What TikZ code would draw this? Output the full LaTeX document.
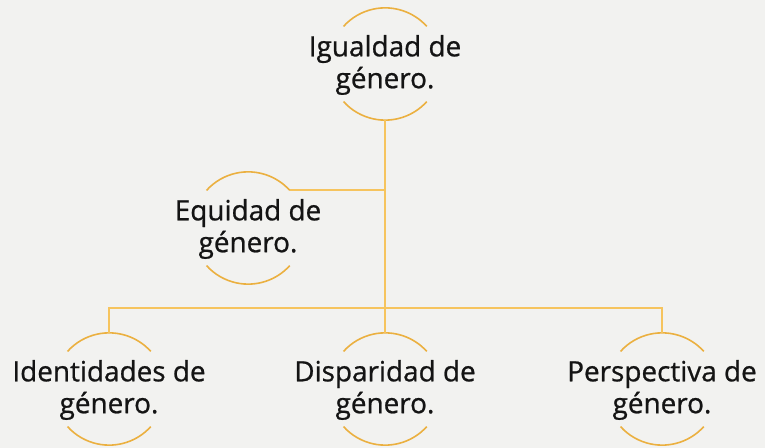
\documentclass[tikz,border=0pt]{standalone}
\usepackage{fontspec}
\setmainfont{Open Sans}[FakeBold=0.8]
\definecolor{bg}{HTML}{F2F2F0}
\definecolor{arcc}{HTML}{EBB040}
\definecolor{linec}{HTML}{F6C45E}
\tikzset{
  circ/.style={circle,minimum size=112bp,inner sep=0pt,draw=none},
  lbl/.style={inner sep=0pt,align=center,
    font=\fontsize{28}{32}\selectfont,text=black!92},
  rim/.style={draw=arcc,line width=1.6bp},
  conn/.style={draw=linec,line width=2bp},
}
\begin{document}
\begin{tikzpicture}[x=1bp,y=1bp]
\fill[bg] (0,0) rectangle (765,448);
\useasboundingbox (0,0) rectangle (765,448);
\node[circ] (t) at (385,384) {};
\node[circ] (e) at (248,220) {};
\node[circ] (i) at (109,59) {};
\node[circ] (d) at (385,59) {};
\node[circ] (p) at (662,59) {};
\node[lbl] (tl) at ([yshift=-1bp]t) {Igualdad de\\género.};
\node[lbl] (el) at ([yshift=-1bp]e) {Equidad de\\género.};
\node[lbl] (il) at ([yshift=-1bp]i) {Identidades de\\género.};
\node[lbl] (dl) at ([yshift=-1bp]d) {Disparidad de\\género.};
\node[lbl] (pl) at ([yshift=-1bp]p) {Perspectiva de\\género.};
\coordinate (bar) at (385,140);
\foreach \n in {t,e,i,d,p}{
  \draw[rim] (\n.42) arc[start angle=42,end angle=138,radius=56bp];
  \draw[rim] (\n.-42) arc[start angle=-42,end angle=-138,radius=56bp];
}
\draw[conn] (t.south) -- (d.north);
\draw[conn] (e.42) -- (e.42 -| t.south);
\draw[conn] (i.north) -- (i.north |- bar) -- (p.north |- bar) -- (p.north);
\end{tikzpicture}
\end{document}
